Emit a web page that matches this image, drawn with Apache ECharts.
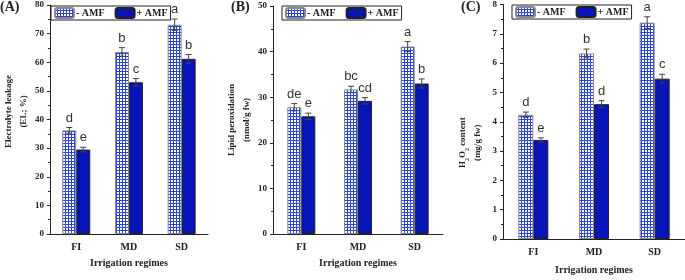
<!DOCTYPE html>
<html>
<head>
<meta charset="utf-8">
<title>Irrigation regimes</title>
<style>
  html, body { margin: 0; padding: 0; background: #fff; }
  #chart { width: 685px; height: 280px; }
</style>
</head>
<body>
<div id="chart"></div>
<script src="https://cdn.jsdelivr.net/npm/echarts@6/dist/echarts.min.js"></script>
<script>
// categories
var categories = ['FI', 'MD', 'SD'];

// (A) electrolyte leakage
var elNoAmf = [36.2, 63.6, 73.1];
var elNoAmfErr = [1.0, 1.5, 2.0];
var elAmf = [29.5, 53.0, 61.2];
var elAmfErr = [0.8, 1.3, 1.5];
var elNoAmfLetters = ['d', 'b', 'a'];
var elAmfLetters = ['e', 'c', 'b'];

// (B) lipid peroxidation
var lpNoAmf = [27.8, 31.7, 41.1];
var lpNoAmfErr = [0.8, 0.7, 1.1];
var lpAmf = [25.8, 29.2, 33.0];
var lpAmfErr = [0.7, 0.7, 1.0];
var lpNoAmfLetters = ['de', 'bc', 'a'];
var lpAmfLetters = ['e', 'cd', 'b'];

// (C) H2O2 content
var hpNoAmf = [4.24, 6.33, 7.38];
var hpNoAmfErr = [0.09, 0.15, 0.2];
var hpAmf = [3.38, 4.6, 5.47];
var hpAmfErr = [0.07, 0.12, 0.15];
var hpNoAmfLetters = ['d', 'b', 'a'];
var hpAmfLetters = ['e', 'd', 'c'];

var serif = '"Liberation Serif", "Times New Roman", serif';

// blue checked pattern for the - AMF bars
var cv = document.createElement('canvas');
cv.width = 3; cv.height = 3;
var cx = cv.getContext('2d');
cx.fillStyle = '#ffffff';
cx.fillRect(0, 0, 3, 3);
cx.fillStyle = '#2a44d8';
cx.fillRect(0, 2, 3, 1);
cx.fillRect(2, 0, 1, 3);
var checked = { image: cv, repeat: 'repeat' };

function errSeries(gi, vals, errs, letters, offset) {
  return {
    type: 'custom',
    xAxisIndex: gi,
    yAxisIndex: gi,
    z: 5,
    silent: true,
    data: vals.map(function (v, k) { return [k, v, errs[k]]; }),
    renderItem: function (params, api) {
      var k = api.value(0), v = api.value(1), e = api.value(2);
      var t = api.coord([k, v + e]);
      var b = api.coord([k, v - e]);
      var x = t[0] + offset;
      var ls = { stroke: '#444', lineWidth: 1 };
      return {
        type: 'group',
        children: [
          { type: 'line', shape: { x1: x, y1: t[1], x2: x, y2: b[1] }, style: ls },
          { type: 'line', shape: { x1: x - 3, y1: t[1], x2: x + 3, y2: t[1] }, style: ls },
          { type: 'line', shape: { x1: x - 3, y1: b[1], x2: x + 3, y2: b[1] }, style: ls },
          {
            type: 'text',
            style: {
              text: letters[params.dataIndex],
              x: x, y: t[1] - 3,
              textAlign: 'center', textVerticalAlign: 'bottom',
              fill: '#333',
              font: '13px "Liberation Sans", Arial, sans-serif'
            }
          }
        ]
      };
    }
  };
}

function barPair(gi, noAmf, noErr, noLet, amf, amfErr, amfLet, bw) {
  return [
    {
      name: '- AMF', type: 'bar', xAxisIndex: gi, yAxisIndex: gi,
      barWidth: bw, barGap: '0%', data: noAmf,
      itemStyle: { color: checked, borderColor: '#8a8a8a', borderWidth: 1 }
    },
    {
      name: '+ AMF', type: 'bar', xAxisIndex: gi, yAxisIndex: gi,
      barWidth: bw, barGap: '0%', data: amf,
      itemStyle: { color: '#0714b8', borderColor: '#222', borderWidth: 1 }
    },
    errSeries(gi, noAmf, noErr, noLet, -bw / 2),
    errSeries(gi, amf, amfErr, amfLet, bw / 2)
  ];
}

var grids = [
  { left: 43, top: 5, width: 165, height: 229 },
  { left: 273, top: 6, width: 170, height: 228 },
  { left: 503, top: 4, width: 182, height: 240 }
];

function xAx(gi, gap) {
  return {
    type: 'category', gridIndex: gi, data: categories,
    name: 'Irrigation regimes', nameLocation: 'middle', nameGap: gap,
    nameTextStyle: { fontFamily: serif, fontWeight: 'bold', fontSize: 10, color: '#222' },
    axisLine: { lineStyle: { color: '#222' } },
    axisTick: { length: 3, lineStyle: { color: '#222' } },
    axisLabel: { fontFamily: serif, fontWeight: 'bold', fontSize: 10, color: '#222', margin: 8 }
  };
}

function yAx(gi, max, interval, name, pad, rich) {
  var ax = {
    type: 'value', gridIndex: gi, min: 0, max: max, interval: interval,
    name: name, nameLocation: 'middle', nameRotate: 90, nameGap: 18,
    nameTextStyle: { fontFamily: serif, fontWeight: 'bold', fontSize: 9, color: '#222', lineHeight: 15, padding: pad },
    axisLine: { show: true, lineStyle: { color: '#222' } },
    axisTick: { show: true, length: 3, lineStyle: { color: '#222' } },
    minorTick: { show: true, splitNumber: 2, length: 2, lineStyle: { color: '#222' } },
    splitLine: { show: false },
    axisLabel: { fontFamily: serif, fontWeight: 'bold', fontSize: 9, color: '#222', margin: 6 }
  };
  if (rich) ax.nameTextStyle.rich = rich;
  return ax;
}

function leg(left, top) {
  return {
    left: left, top: top, orient: 'horizontal',
    data: ['- AMF', '+ AMF'],
    itemWidth: 19, itemHeight: 10, itemGap: 10,
    borderColor: '#222', borderWidth: 1, padding: [1, 3],
    selectedMode: false,
    textStyle: { fontFamily: serif, fontWeight: 'bold', fontSize: 10, color: '#222', padding: [0, 0, 0, -3] }
  };
}

var subRich = {
  n: { fontFamily: serif, fontWeight: 'bold', fontSize: 9, color: '#222', lineHeight: 15 },
  s: { fontFamily: serif, fontWeight: 'bold', fontSize: 6, color: '#222', lineHeight: 15, verticalAlign: 'bottom', padding: [4, 0, 0, 0] }
};

var chart = echarts.init(document.getElementById('chart'));
chart.setOption({
  animation: false,
  title: [
    { text: '(A)', left: 0, top: 0, textStyle: { fontFamily: serif, fontWeight: 'bold', fontSize: 14, color: '#222' }, padding: 0 },
    { text: '(B)', left: 231, top: 0, textStyle: { fontFamily: serif, fontWeight: 'bold', fontSize: 14, color: '#222' }, padding: 0 },
    { text: '(C)', left: 461, top: 0, textStyle: { fontFamily: serif, fontWeight: 'bold', fontSize: 14, color: '#222' }, padding: 0 }
  ],
  legend: [leg(51, 6), leg(282, 6), leg(512, 5)],
  grid: grids,
  xAxis: [xAx(0, 24), xAx(1, 24), xAx(2, 26)],
  yAxis: [
    yAx(0, 80, 10, 'Electrolyte leakage\n(EL; %)', [0, 0, 0, 16]),
    yAx(1, 50, 10, 'Lipid peroxidation\n(nmol/g fw)', 0),
    yAx(2, 8, 1, '{n|H}{s|2}{n|O}{s|2}{n| content}\n{n|(mg/g fw)}', [0, 42, 0, 0], subRich)
  ],
  series: [].concat(
    barPair(0, elNoAmf, elNoAmfErr, elNoAmfLetters, elAmf, elAmfErr, elAmfLetters, 14),
    barPair(1, lpNoAmf, lpNoAmfErr, lpNoAmfLetters, lpAmf, lpAmfErr, lpAmfLetters, 14),
    barPair(2, hpNoAmf, hpNoAmfErr, hpNoAmfLetters, hpAmf, hpAmfErr, hpAmfLetters, 15)
  )
});
</script>
</body>
</html>
